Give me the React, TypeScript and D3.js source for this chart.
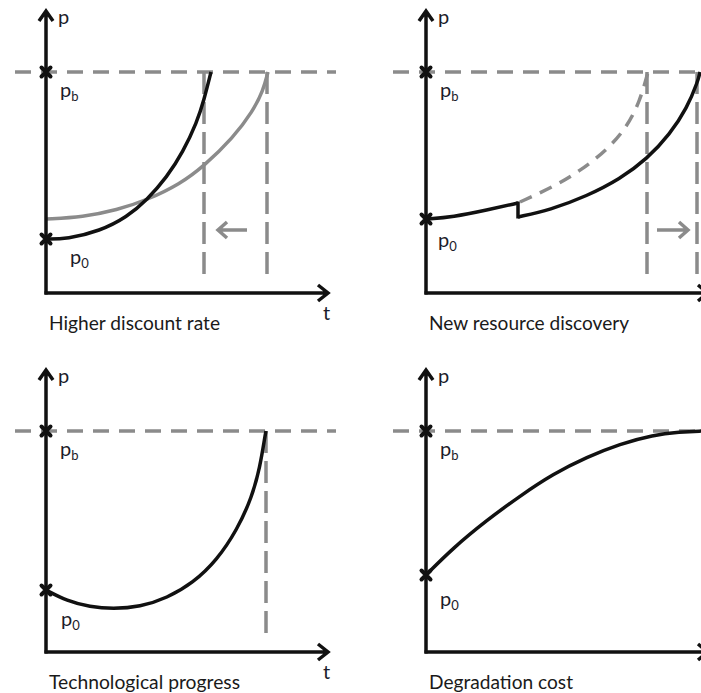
import * as d3 from 'd3';
import { useEffect, useRef } from 'react';

// price paths as [t, p]; p_b (backstop price) sits at 22.1
const backstop = 22.1;

const discountNew = [[0, 5.4], [2.1, 5.4], [5.4, 6.2], [8.1, 7.6], [10.1, 9.3], [12.1, 11.6], [13.7, 14.1], [15.1, 17.1], [15.8, 19.3], [16.5, 22.1]];
const discountOld = [[0, 7.4], [3.7, 7.6], [7.1, 8.3], [10.1, 9.3], [13.4, 10.9], [15.8, 12.7], [18.7, 15.5], [20.7, 18.2], [21.7, 20.2], [22.2, 22.1]];
const discountStops = [15.8, 22.1];
const discountShift = [20.1, 17.2];

const discoveryBefore = [[0, 7.4], [2.7, 7.6], [6.1, 8.3], [9.2, 9.0]];
const discoveryAfter = [[9.2, 7.6], [12.4, 8.3], [16.1, 9.7], [19.4, 11.4], [22.1, 13.4], [24.4, 15.9], [26.1, 18.5], [27.2, 21.2], [27.4, 22.1]];
const discoveryOld = [[9.4, 9.1], [12.7, 10.6], [15.4, 12.2], [18.1, 14.3], [20.1, 16.6], [21.4, 19.2], [22.2, 22.1]];
const discoveryStops = [22.1, 27.1];
const discoveryShift = [23.1, 26.2];

const techPath = [[0, 6.2], [2.1, 5.1], [4.4, 4.5], [6.7, 4.3], [9.4, 4.5], [12.1, 5.4], [14.7, 6.9], [17.1, 9.2], [19.1, 12.2], [20.6, 15.5], [21.4, 18.5], [21.9, 21.6], [22.0, 22.1]];
const techStops = [22.0];

const degradationPath = [[0, 7.7], [2.7, 10.4], [6.1, 13.2], [9.4, 15.6], [12.7, 17.8], [16.1, 19.5], [19.4, 20.8], [22.7, 21.7], [25.4, 22.0], [27.5, 22.1], [28.5, 22.1]];

const titles = ['Higher discount rate', 'New resource discovery', 'Technological progress', 'Degradation cost'];

const W = 701;
const H = 693;
const GREY = '#8b8b8b';
const INK = '#111';
const FONT = 'Lato, "Open Sans", sans-serif';

const panels = [
  { ox: 46, oy: 293, title: titles[0], titleW: 171, p0: discountNew[0][1], p0Label: [24, 25], solid: [discountNew], grey: [discountOld], dashedCurve: [], stops: discountStops, shift: discountShift, dashFrom: -3.1, tLabel: true },
  { ox: 426, oy: 293, title: titles[1], titleW: 200, p0: discoveryBefore[0][1], p0Label: [12, 28], solid: [discoveryBefore, discoveryAfter], grey: [], dashedCurve: [discoveryOld], stops: discoveryStops, shift: discoveryShift, dashFrom: -3.3, jump: true, tLabel: false },
  { ox: 46, oy: 652, title: titles[2], titleW: 191, p0: techPath[0][1], p0Label: [15, 36], solid: [techPath], grey: [], dashedCurve: [], stops: techStops, shift: null, dashFrom: -3.1, tLabel: true },
  { ox: 426, oy: 652, title: titles[3], titleW: 144, p0: degradationPath[0][1], p0Label: [14, 31], solid: [degradationPath], grey: [], dashedCurve: [], stops: [], shift: null, dashFrom: -3.3, tLabel: false },
];

function Diagrams() {
  const ref = useRef(null);

  useEffect(() => {
    const svg = d3.select(ref.current);
    svg.selectAll('*').remove();

    panels.forEach((panel) => {
      const x = d3.scaleLinear().domain([0, 28.2]).range([panel.ox, panel.ox + 282]);
      const y = d3.scaleLinear().domain([0, 28.2]).range([panel.oy, panel.oy - 282]);
      const line = d3.line().x((d) => x(d[0])).y((d) => y(d[1])).curve(d3.curveBasis);
      const g = svg.append('g');

      // backstop price level
      g.append('line')
        .attr('x1', x(panel.dashFrom)).attr('x2', x(29))
        .attr('y1', y(backstop)).attr('y2', y(backstop))
        .attr('stroke', GREY).attr('stroke-width', 3.5)
        .attr('stroke-dasharray', '16 10');

      // exhaustion times
      panel.stops.forEach((t) => {
        g.append('line')
          .attr('x1', x(t)).attr('x2', x(t))
          .attr('y1', y(backstop)).attr('y2', y(1.3))
          .attr('stroke', GREY).attr('stroke-width', 3.5)
          .attr('stroke-dasharray', '22 8');
      });

      panel.grey.forEach((path) => {
        g.append('path').attr('d', line(path))
          .attr('fill', 'none').attr('stroke', GREY).attr('stroke-width', 3.5);
      });

      panel.dashedCurve.forEach((path) => {
        g.append('path').attr('d', line(path))
          .attr('fill', 'none').attr('stroke', GREY).attr('stroke-width', 3.5)
          .attr('stroke-dasharray', '13 9');
      });

      panel.solid.forEach((path) => {
        g.append('path').attr('d', line(path))
          .attr('fill', 'none').attr('stroke', INK).attr('stroke-width', 3.5);
      });

      if (panel.jump) {
        const a = panel.solid[0][panel.solid[0].length - 1];
        const b = panel.solid[1][0];
        g.append('line')
          .attr('x1', x(a[0])).attr('x2', x(b[0]))
          .attr('y1', y(a[1]) - 1.5).attr('y2', y(b[1]) + 1.5)
          .attr('stroke', INK).attr('stroke-width', 3.5);
      }

      if (panel.shift) {
        const [from, to] = panel.shift;
        const dir = Math.sign(to - from);
        const ay = y(6.3);
        g.append('path')
          .attr('d', `M${x(from)},${ay}L${x(to)},${ay}M${x(to) - dir * 9},${ay - 8}L${x(to)},${ay}L${x(to) - dir * 9},${ay + 8}`)
          .attr('fill', 'none').attr('stroke', GREY).attr('stroke-width', 3.5)
          .attr('stroke-linejoin', 'miter');
      }

      // axes with open arrow heads
      const yTop = y(28.2);
      const xTip = x(28.2);
      g.append('path')
        .attr('d', `M${panel.ox},${panel.oy + 1.5}V${yTop}M${panel.ox - 7},${yTop + 10}L${panel.ox},${yTop}L${panel.ox + 7},${yTop + 10}`)
        .attr('fill', 'none').attr('stroke', INK).attr('stroke-width', 3.5);
      g.append('path')
        .attr('d', `M${panel.ox - 1.5},${panel.oy}H${xTip}M${xTip - 10},${panel.oy - 8}L${xTip},${panel.oy}L${xTip - 10},${panel.oy + 8}`)
        .attr('fill', 'none').attr('stroke', INK).attr('stroke-width', 3.5);

      // crosses for p_b and p_0
      [backstop, panel.p0].forEach((p) => {
        const cy = y(p);
        g.append('path')
          .attr('d', `M${panel.ox - 4.5},${cy - 4.5}L${panel.ox + 4.5},${cy + 4.5}M${panel.ox + 4.5},${cy - 4.5}L${panel.ox - 4.5},${cy + 4.5}`)
          .attr('stroke', INK).attr('stroke-width', 4).attr('stroke-linecap', 'round');
      });

      const label = (lx, ly, main, sub) => {
        const t = g.append('text')
          .attr('x', lx).attr('y', ly)
          .style('font-family', FONT).style('font-size', '20px').style('fill', '#1c1c2a')
          .text(main);
        if (sub) {
          t.append('tspan').attr('dy', 4).style('font-size', '13px').text(sub);
        }
      };

      label(panel.ox + 12, panel.oy - 269, 'p');
      label(panel.ox + 14, y(backstop) + 25, 'p', 'b');
      label(panel.ox + panel.p0Label[0], y(panel.p0) + panel.p0Label[1], 'p', '0');
      if (panel.tLabel) label(xTip - 5, panel.oy + 27, 't');

      g.append('text')
        .attr('x', panel.ox + 3).attr('y', panel.oy + 37)
        .attr('textLength', panel.titleW).attr('lengthAdjust', 'spacingAndGlyphs')
        .style('font-family', FONT).style('font-size', '19.5px').style('fill', '#1a1a1a')
        .text(panel.title);
    });

    return () => {
      svg.selectAll('*').remove();
    };
  }, []);

  return <svg ref={ref} width={W} height={H} style={{ position: 'absolute', left: 0, top: 0, background: '#fff' }} />;
}

export default function App() {
  return <Diagrams />;
}
